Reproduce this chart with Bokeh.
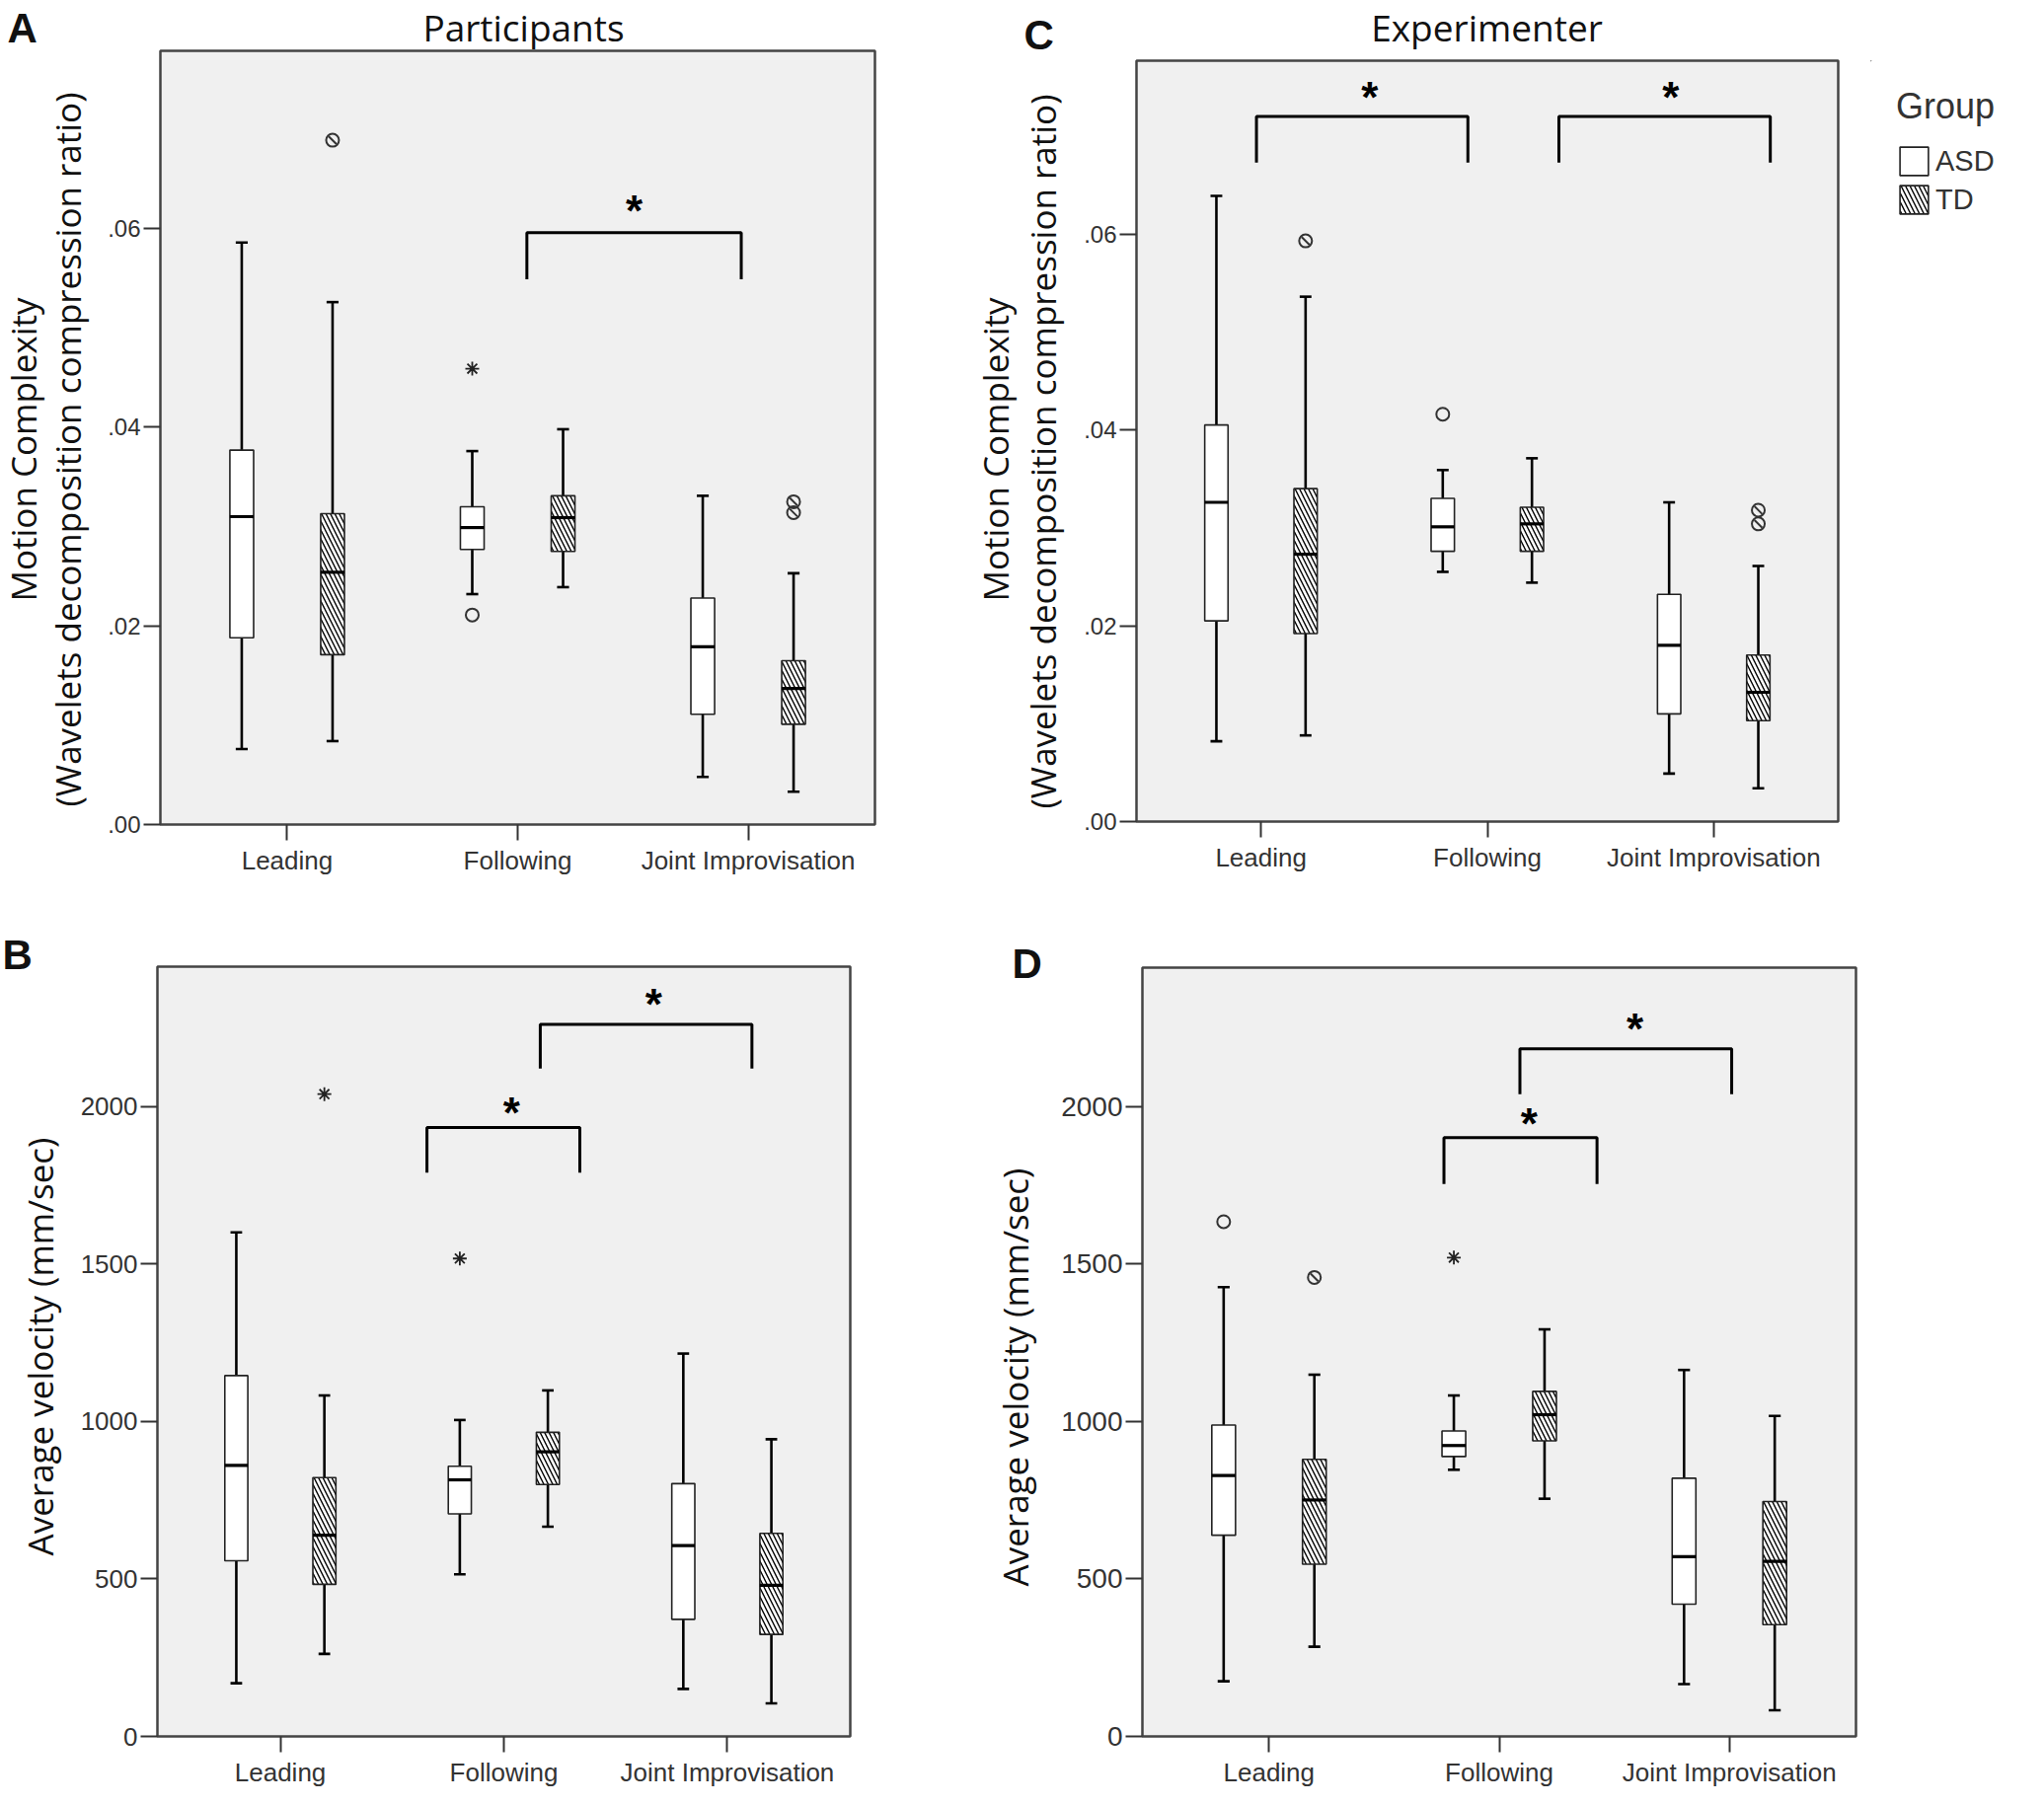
import math
from bokeh.plotting import figure
from bokeh.models import (ColumnDataSource, FixedTicker, Legend, LegendItem,
                          Range1d, CustomJSTickFormatter)
from bokeh.layouts import row, column
from bokeh.embed import file_html
from bokeh.resources import INLINE
from bokeh.core.properties import value

# ---------------- data ----------------
categories = ["Leading", "Following", "Joint Improvisation"]
groups = ["ASD", "TD"]

# five-number summaries per category: [low whisker, Q1, median, Q3, high whisker]
A_asd = [[0.0076, 0.0188, 0.0310, 0.0377, 0.0586],
         [0.0232, 0.0277, 0.0299, 0.0320, 0.0376],
         [0.0048, 0.0111, 0.0179, 0.0228, 0.0331]]
A_td = [[0.0084, 0.0171, 0.0254, 0.0313, 0.0526],
        [0.0239, 0.0275, 0.0309, 0.0331, 0.0398],
        [0.0033, 0.0101, 0.0137, 0.0165, 0.0253]]
A_outliers = [("Leading", "TD", 0.0689), ("Following", "ASD", 0.0211),
              ("Joint Improvisation", "TD", 0.0314), ("Joint Improvisation", "TD", 0.0325)]
A_extremes = [("Following", "ASD", 0.0459)]
A_brackets = [(1.04, 1.97, 0.0596, 0.0549)]
A_stars = [(1.505, 0.0628)]

C_asd = [[0.0082, 0.0205, 0.0326, 0.0405, 0.0639],
         [0.0255, 0.0276, 0.0301, 0.0330, 0.0359],
         [0.0049, 0.0110, 0.0180, 0.0232, 0.0326]]
C_td = [[0.0088, 0.0192, 0.0273, 0.0340, 0.0536],
        [0.0244, 0.0276, 0.0304, 0.0321, 0.0371],
        [0.0034, 0.0103, 0.0132, 0.0170, 0.0261]]
C_outliers = [("Leading", "TD", 0.0593), ("Following", "ASD", 0.0416),
              ("Joint Improvisation", "TD", 0.0304), ("Joint Improvisation", "TD", 0.0318)]
C_extremes = []
C_brackets = [(-0.02, 0.914, 0.0720, 0.0673), (1.316, 2.25, 0.0720, 0.0673)]
C_stars = [(0.48, 0.0750), (1.81, 0.0750)]

B_asd = [[169, 558, 861, 1146, 1601],
         [515, 707, 815, 858, 1005],
         [151, 372, 606, 803, 1216]]
B_td = [[262, 483, 639, 822, 1083],
        [666, 800, 904, 966, 1099],
        [105, 324, 480, 645, 944]]
B_outliers = []
B_extremes = [("Leading", "TD", 2040), ("Following", "ASD", 1518)]
B_brackets = [(0.656, 1.34, 1934, 1791), (1.163, 2.11, 2262, 2121)]
B_stars = [(1.035, 2011), (1.67, 2357)]

D_asd = [[175, 639, 829, 989, 1427],
         [847, 889, 924, 970, 1083],
         [166, 420, 571, 820, 1164]]
D_td = [[285, 547, 751, 880, 1149],
        [755, 939, 1022, 1096, 1293],
        [83, 355, 556, 746, 1018]]
D_outliers = [("Leading", "ASD", 1635), ("Leading", "TD", 1458)]
D_extremes = [("Following", "ASD", 1521)]
D_brackets = [(0.76, 1.425, 1902, 1755), (1.09, 2.01, 2184, 2040)]
D_stars = [(1.13, 1977), (1.59, 2280)]

mc_ticks = [0.0, 0.02, 0.04, 0.06]
vel_ticks = [0, 500, 1000, 1500, 2000]

panel_letters = ["A", "B", "C", "D"]
panel_titles = ["Participants", "Experimenter"]
mc_label = ["Motion Complexity", "(Wavelets decomposition compression ratio)"]
vel_label = "Average velocity (mm/sec)"

# ---------------- style ----------------
OFFSET = {"ASD": -0.197, "TD": 0.197}
BOX_W = 0.103
CAP_W = 0.052
HATCH = "\\"
INK = "#111111"
TICK_INK = "#333333"


def make_panel(width, height, fl, ft, fw, fh, yend, yticks, ytick_px, mc):
    p = figure(width=width, height=height, output_backend="svg", toolbar_location=None,
               title=None, x_range=Range1d(-0.55, 2.55), y_range=Range1d(0, yend),
               min_border_left=fl, min_border_top=ft,
               min_border_right=width - fl - fw, min_border_bottom=height - ft - fh)
    p.background_fill_color = "#f0f0f0"
    p.border_fill_color = "white"
    p.outline_line_color = "#444444"
    p.outline_line_width = 2.5
    p.grid.visible = False
    for ax in (p.xaxis[0], p.yaxis[0]):
        ax.axis_line_color = None
        ax.minor_tick_line_color = None
        ax.major_tick_in = 0
        ax.major_tick_line_width = 2
        ax.major_tick_line_color = "#333333"
        ax.major_label_text_font = "Liberation Sans"
        ax.major_label_text_color = TICK_INK
    xa = p.xaxis[0]
    xa.ticker = FixedTicker(ticks=[0, 1, 2])
    xa.major_label_overrides = {i: c for i, c in enumerate(categories)}
    xa.major_tick_out = 16
    xa.major_label_standoff = 5
    xa.major_label_text_font_size = "26px"
    ya = p.yaxis[0]
    ya.ticker = FixedTicker(ticks=yticks)
    ya.major_tick_out = 17
    ya.major_label_standoff = 3
    ya.major_label_text_font_size = f"{ytick_px}px"
    if mc:
        ya.formatter = CustomJSTickFormatter(code="return tick.toFixed(2).replace(/^0\\./, '.');")
    return p


def box_style(group):
    st = dict(fill_color="white", line_color="#222222", line_width=1.6)
    if group == "TD":
        st.update(hatch_pattern=HATCH, hatch_color="black", hatch_scale=9, hatch_weight=1.4)
    return st


def draw_group(p, summaries, group):
    xs = [i + OFFSET[group] for i in range(len(categories))]
    src = ColumnDataSource(dict(
        x=xs,
        lo=[s[0] for s in summaries], q1=[s[1] for s in summaries],
        med=[s[2] for s in summaries], q3=[s[3] for s in summaries],
        hi=[s[4] for s in summaries],
        c0=[x - CAP_W / 2 for x in xs], c1=[x + CAP_W / 2 for x in xs],
        b0=[x - BOX_W / 2 for x in xs], b1=[x + BOX_W / 2 for x in xs],
    ))
    wk = dict(source=src, line_color="black", line_width=2.6)
    p.segment(x0="x", x1="x", y0="lo", y1="q1", **wk)
    p.segment(x0="x", x1="x", y0="q3", y1="hi", **wk)
    p.segment(x0="c0", x1="c1", y0="lo", y1="lo", **wk)
    p.segment(x0="c0", x1="c1", y0="hi", y1="hi", **wk)
    p.vbar(x="x", width=BOX_W, bottom="q1", top="q3", source=src, **box_style(group))
    p.segment(x0="b0", x1="b1", y0="med", y1="med", source=src, line_color="black", line_width=3.2)


def draw_points(p, outliers, extremes):
    pts = [(categories.index(c) + OFFSET[g], v, g) for c, g, v in outliers]
    if pts:
        p.scatter(x=[a for a, _, _ in pts], y=[b for _, b, _ in pts], marker="circle", size=13,
                  fill_color=None, line_color="#333333", line_width=2)
        slash = [(a, b) for a, b, g in pts if g == "TD"]
        if slash:
            p.scatter(x=[a for a, _ in slash], y=[b for _, b in slash], marker="dash", size=11,
                      angle=-math.pi / 4, line_color="#333333", line_width=2)
    ex = [(categories.index(c) + OFFSET[g], v) for c, g, v in extremes]
    if ex:
        p.scatter(x=[a for a, _ in ex], y=[b for _, b in ex], marker="asterisk", size=14,
                  line_color="#222222", line_width=1.8)


def draw_sig(p, brackets, stars):
    p.multi_line(xs=[[b[0], b[0], b[1], b[1]] for b in brackets],
                 ys=[[b[3], b[2], b[2], b[3]] for b in brackets],
                 line_color="black", line_width=3)
    p.text(x=[s[0] for s in stars], y=[s[1] for s in stars], text=["*"] * len(stars),
           text_font=value("Liberation Sans"), text_font_style="bold", text_font_size="44px",
           text_align="center", text_baseline="alphabetic", y_offset=10, text_color="black")


def text_fig(width, height, left=0, right=0, top=0, bottom=0):
    # ranges chosen so that one data unit is one pixel of the figure,
    # measured from its top-left corner
    f = figure(width=width, height=height, output_backend="svg", toolbar_location=None,
               title=None, x_range=Range1d(left, width - right),
               y_range=Range1d(height - bottom, top),
               x_axis_type=None, y_axis_type=None, min_border=0,
               min_border_left=left, min_border_right=right,
               min_border_top=top, min_border_bottom=bottom)
    f.grid.visible = False
    f.outline_line_color = None
    f.background_fill_color = "white"
    f.border_fill_color = "white"
    return f


def put_text(f, x, y, text, size, font="Open Sans", style="normal", angle=0.0, align="left",
             baseline="alphabetic"):
    f.text(x=[x], y=[y], text=[text], angle=angle, text_align=align, text_baseline=baseline,
           text_font=value(font), text_font_size=f"{size}px", text_font_style=style,
           text_color=INK)


ROT = math.pi / 2


def letter(f, x, y, t):
    put_text(f, x, y, t, 42, "Liberation Sans", "bold", baseline="middle")


# ---------------- row 1 ----------------
ylabA = text_fig(92, 906)
letter(ylabA, 7, 28, panel_letters[0])
put_text(ylabA, 23, 455, mc_label[0], 35, angle=ROT, align="center")
put_text(ylabA, 68, 455, mc_label[1], 35, angle=ROT, align="center")

headerA = text_fig(890, 50, left=70, right=96)
put_text(headerA, 438, 27, panel_titles[0], 37, align="center", baseline="middle")

pA = make_panel(890, 856, 70, 1, 724, 784, 0.0779, mc_ticks, 24, True)
draw_group(pA, A_asd, "ASD")
draw_group(pA, A_td, "TD")
draw_points(pA, A_outliers, A_extremes)
draw_sig(pA, A_brackets, A_stars)

ylabC = text_fig(100, 906)
letter(ylabC, 55, 34.5, panel_letters[2])
put_text(ylabC, 26, 455, mc_label[0], 35, angle=ROT, align="center")
put_text(ylabC, 74, 457, mc_label[1], 35, angle=ROT, align="center")

headerC = text_fig(973, 50)
put_text(headerC, 424, 27, panel_titles[1], 37, align="center", baseline="middle")

pC = make_panel(813, 856, 69, 11, 711, 771, 0.0777, mc_ticks, 24, True)
draw_group(pC, C_asd, "ASD")
draw_group(pC, C_td, "TD")
draw_points(pC, C_outliers, C_extremes)
draw_sig(pC, C_brackets, C_stars)

legfig = text_fig(160, 856, top=11, bottom=74)
# legend proxies: one bar each, far outside the visible range
leg_r = [legfig.vbar(x=[-1000], width=1, top=[-1000], bottom=[-1001], **box_style(g)) for g in groups]
legend = Legend(items=[LegendItem(label=g, renderers=[r]) for g, r in zip(groups, leg_r)],
                location="top_left", title="Group",
                title_text_font="Liberation Sans", title_text_font_size="36px",
                title_text_font_style="normal", title_text_color="#333333", title_standoff=16,
                label_text_font="Liberation Sans", label_text_font_size="29px",
                label_text_color="#333333", glyph_width=36, glyph_height=36,
                label_standoff=4, spacing=3, padding=0, margin=26,
                border_line_color=None, background_fill_alpha=0)
legfig.add_layout(legend)

# ---------------- row 2 ----------------
ylabB = text_fig(78, 907)
letter(ylabB, 2, 60.5, panel_letters[1])
put_text(ylabB, 40, 458, vel_label, 35, angle=ROT, align="center")

pB = make_panel(914, 907, 80, 73, 703, 784, 2445, vel_ticks, 26, False)
draw_group(pB, B_asd, "ASD")
draw_group(pB, B_td, "TD")
draw_points(pB, B_outliers, B_extremes)
draw_sig(pB, B_brackets, B_stars)

ylabD = text_fig(70, 907)
letter(ylabD, 33, 70, panel_letters[3])
put_text(ylabD, 36, 489, vel_label, 35, angle=ROT, align="center")

pD = make_panel(993, 907, 95, 74, 723, 780, 2442, vel_ticks, 28, False)
draw_group(pD, D_asd, "ASD")
draw_group(pD, D_td, "TD")
draw_points(pD, D_outliers, D_extremes)
draw_sig(pD, D_brackets, D_stars)

row1 = row(column(ylabA), column(headerA, pA, spacing=0), column(ylabC),
           column(headerC, row(pC, legfig, spacing=0), spacing=0), spacing=0)
row2 = row(column(ylabB), column(pB), column(ylabD), column(pD), spacing=0)
layout = column(row1, row2, spacing=0)
open("out.html", "w").write(file_html(layout, INLINE))
